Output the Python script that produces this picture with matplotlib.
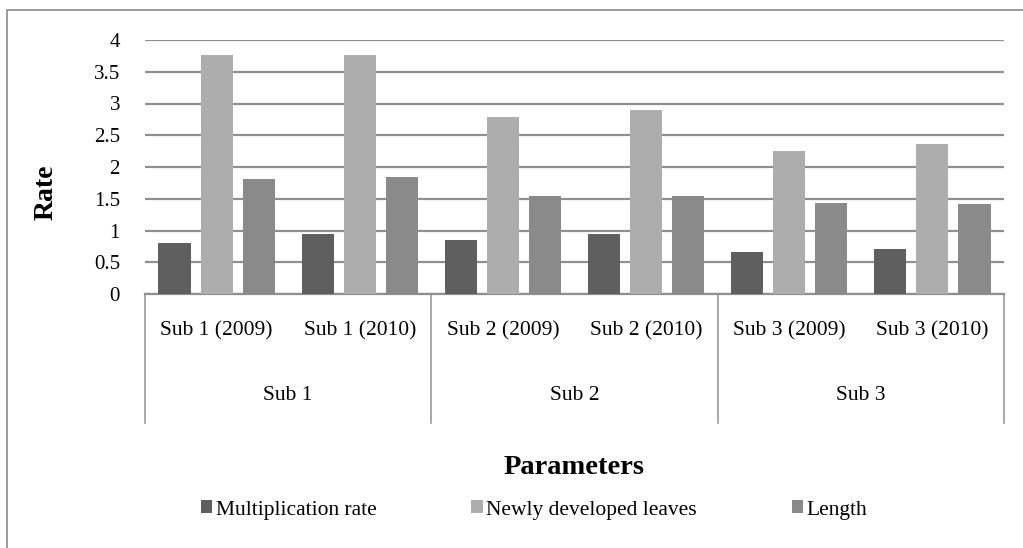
import matplotlib
matplotlib.use("Agg")
import matplotlib.pyplot as plt
from matplotlib.patches import Rectangle, Patch
from matplotlib.lines import Line2D
import numpy as np

categories = ["Sub 1 (2009)", "Sub 1 (2010)", "Sub 2 (2009)", "Sub 2 (2010)", "Sub 3 (2009)", "Sub 3 (2010)"]
groups = ["Sub 1", "Sub 2", "Sub 3"]
series_names = ["Multiplication rate", "Newly developed leaves", "Length"]
multiplication_rate = [0.81, 0.94, 0.85, 0.94, 0.66, 0.71]
newly_developed_leaves = [3.77, 3.77, 2.78, 2.89, 2.25, 2.36]
length = [1.81, 1.84, 1.54, 1.55, 1.44, 1.42]
y_ticks = [0, 0.5, 1, 1.5, 2, 2.5, 3, 3.5, 4]
y_tick_labels = ["0", "0.5", "1", "1.5", "2", "2.5", "3", "3.5", "4"]

colors = ["#5f5f5f", "#adadad", "#8a8a8a"]
grid_color = "#8f8f8f"
serif = ["Liberation Serif", "DejaVu Serif"]
plt.rcParams["font.family"] = serif

W, H = 1023, 548
fig = plt.figure(figsize=(W / 100, H / 100), dpi=100)
fig.patch.set_facecolor("white")

# outer chart frame
fig.add_artist(Rectangle((7 / W, -0.1), 1.2, (H - 10) / H + 0.1, transform=fig.transFigure,
                         fill=False, edgecolor="#8a8a8a", linewidth=1.2))

left, right, bottom, top = 145 / W, 1004 / W, (H - 294) / H, (H - 40) / H
ax = fig.add_axes([left, bottom, right - left, top - bottom])

n = len(categories)
x = np.arange(n)
width = 0.224
step = 0.294
for i, (vals, c) in enumerate(zip([multiplication_rate, newly_developed_leaves, length], colors)):
    ax.bar(x + (i - 1) * step, vals, width=width, color=c, zorder=3, label=series_names[i])

ax.set_xlim(-0.5, n - 0.5)
ax.set_ylim(0, 4)
ax.set_yticks(y_ticks)
ax.set_yticklabels(y_tick_labels, fontsize=15)
ax.yaxis.grid(True, color=grid_color, linewidth=1.6, zorder=0)
ax.set_axisbelow(True)
ax.tick_params(axis="y", length=0, pad=18)
ax.tick_params(axis="x", length=0, labelbottom=False)
for s in ["top", "right", "left"]:
    ax.spines[s].set_visible(False)
ax.spines["bottom"].set_color(grid_color)
ax.spines["bottom"].set_linewidth(1.6)

ax.set_ylabel("Rate", fontsize=20, fontweight="bold")
ax.yaxis.set_label_coords(-(145 - 59) / (1004 - 145), 0.5 - (192 - 167) / (294 - 40))

# two-level category axis
trans = ax.get_xaxis_transform()
px = 1.0 / (294 - 40)  # axes fraction per pixel (vertical)
for i, lab in enumerate(categories):
    ax.text(x[i], -(331 - 294) * px, lab, transform=trans, ha="center", va="center", fontsize=15.5)
for g, lab in enumerate(groups):
    ax.text(2 * g + 0.5, -(395 - 294) * px, lab, transform=trans, ha="center", va="center", fontsize=15.5)
for b in [-0.5, 1.5, 3.5, 5.5]:
    ax.add_line(Line2D([b, b], [0, -(423 - 294) * px], transform=trans, color="#9a9a9a",
                       linewidth=1.2, clip_on=False))

fig.text((left + right) / 2, (H - 468) / H, "Parameters", ha="center", va="center",
         fontsize=20.5, fontweight="bold")

handles = [Patch(facecolor=c, edgecolor="none") for c in colors]
fig.legend(handles, series_names, loc="center", bbox_to_anchor=(0.522, (H - 510) / H), ncol=3,
           frameon=False, fontsize=15.5, handlelength=0.55, handleheight=0.55, handletextpad=0.15,
           columnspacing=4.4)

fig.savefig("out.png", dpi=100)
